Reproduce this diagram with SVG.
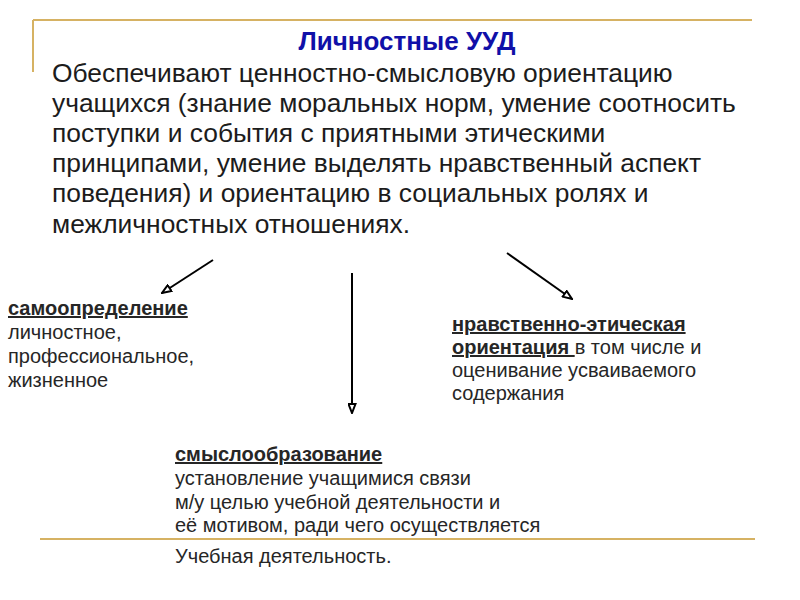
<svg xmlns="http://www.w3.org/2000/svg" width="800" height="600" viewBox="0 0 800 600">
<defs>
<marker id="arr" viewBox="0 0 11 9" refX="10" refY="4.5" markerWidth="11" markerHeight="9" markerUnits="userSpaceOnUse" orient="auto">
<path d="M1,1 L10,4.5 L1,8 Z" fill="#fff" stroke="#000" stroke-width="2" stroke-linejoin="miter"/>
</marker>
<style>
.gold{stroke:#d6b263;stroke-width:2;fill:none}
.title{font-family:"Liberation Sans",Arial,sans-serif;font-weight:bold;font-size:26px;fill:#1010a8}
.body{font-family:"Liberation Sans",Arial,sans-serif;font-size:26.4px;fill:#1c1c1c}
.small{font-family:"Liberation Sans",Arial,sans-serif;font-size:20px;fill:#262626}
.hd{font-weight:bold;text-decoration:underline}
.conn{stroke:#000;stroke-width:2;fill:none;marker-end:url(#arr)}
</style>
</defs>
<rect width="800" height="600" fill="#fff"/>
<g id="frame">
<line class="gold" x1="33" y1="20" x2="752" y2="20"/>
<line class="gold" x1="33" y1="20" x2="33" y2="72"/>
<line class="gold" x1="40" y1="539" x2="755" y2="539"/>
</g>
<g id="main">
<text class="title" x="407" y="50" text-anchor="middle">Личностные УУД</text>
<text class="body" x="52" y="82">Обеспечивают ценностно-смысловую ориентацию</text>
<text class="body" x="52" y="112">учащихся (знание моральных норм, умение соотносить</text>
<text class="body" x="52" y="142">поступки и события с приятными этическими</text>
<text class="body" x="52" y="172">принципами, умение выделять нравственный аспект</text>
<text class="body" x="52" y="202">поведения) и ориентацию в социальных ролях и</text>
<text class="body" x="52" y="233">межличностных отношениях.</text>
</g>
<g id="connectors">
<line class="conn" x1="213" y1="260" x2="162" y2="293"/>
<line class="conn" x1="352" y1="273" x2="352" y2="413"/>
<line class="conn" x1="507" y1="253" x2="572" y2="299"/>
</g>
<g id="self">
<text class="small" x="8" y="315"><tspan class="hd">самоопределение</tspan></text>
<text class="small" x="8" y="339">личностное,</text>
<text class="small" x="8" y="363">профессиональное,</text>
<text class="small" x="8" y="387">жизненное</text>
</g>
<g id="moral">
<text class="small" x="452" y="331"><tspan class="hd">нравственно-этическая</tspan></text>
<text class="small" x="452" y="354"><tspan class="hd">ориентация </tspan>в том числе и</text>
<text class="small" x="452" y="377">оценивание усваиваемого</text>
<text class="small" x="452" y="400">содержания</text>
</g>
<g id="meaning">
<text class="small" x="175" y="461"><tspan class="hd">смыслообразование</tspan></text>
<text class="small" x="175" y="485">установление учащимися связи</text>
<text class="small" x="175" y="509">м/у целью учебной деятельности и</text>
<text class="small" x="175" y="532">её мотивом, ради чего осуществляется</text>
<text class="small" x="175" y="563">Учебная деятельность.</text>
</g>
</svg>
